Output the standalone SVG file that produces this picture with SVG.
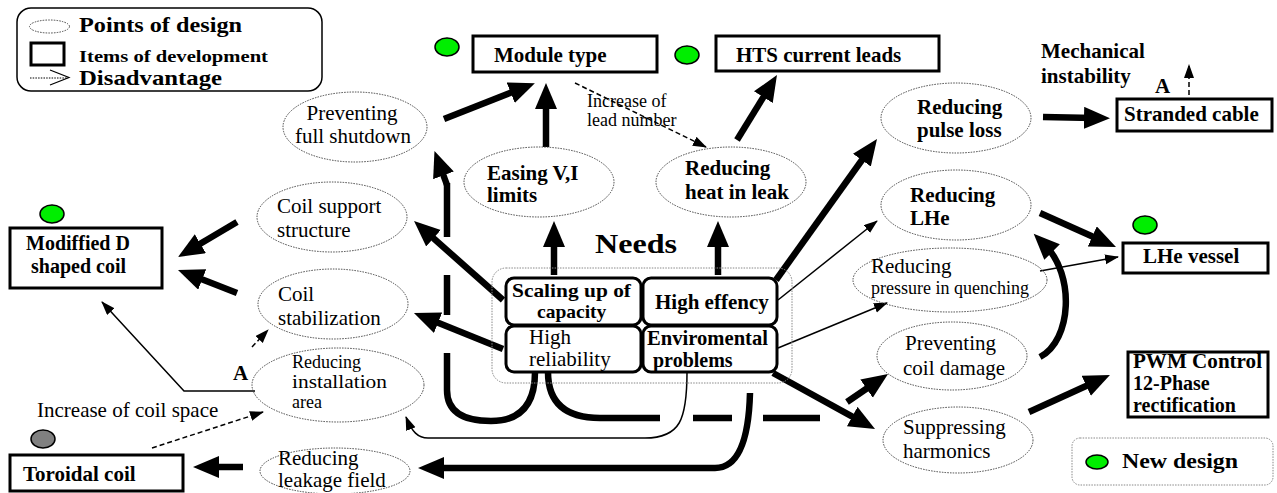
<svg xmlns="http://www.w3.org/2000/svg" width="1277" height="493" viewBox="0 0 1277 493">
<style>
text{font-family:"Liberation Serif","Times New Roman",serif;fill:#000}
.n{font-size:21px}
.b{font-size:21px;font-weight:bold}
.s{font-size:18px}
.ell{fill:none;stroke:#444;stroke-width:1;stroke-dasharray:1.5 1.2}
.box{fill:#fff;stroke:#000;stroke-width:3}
.rbox{fill:#fff;stroke:#000;stroke-width:3}
.dot{fill:#00ee00;stroke:#000;stroke-width:1.5}
.thk{fill:none;stroke:#000;stroke-width:6.5}
.thn{fill:none;stroke:#000;stroke-width:1.5}
.dsh{fill:none;stroke:#000;stroke-width:1.5;stroke-dasharray:5 3}
</style>
<defs>
<marker id="ah" markerUnits="userSpaceOnUse" markerWidth="28" markerHeight="24" refX="10" refY="11" orient="auto"><path d="M0,0 L26,11 L0,22 z" fill="#000"/></marker>
<marker id="as" markerUnits="userSpaceOnUse" markerWidth="16" markerHeight="12" refX="13" refY="5" orient="auto"><path d="M0,0 L14,5 L0,10 z" fill="#000"/></marker>
</defs>

<g id="legend">
<rect x="17" y="8" width="305" height="83" rx="14" fill="#fff" stroke="#000" stroke-width="1.5"/>
<ellipse cx="49.5" cy="26.5" rx="20" ry="6.5" class="ell"/>
<text x="79" y="32" style="font-size:22px;font-weight:bold" textLength="163" lengthAdjust="spacingAndGlyphs">Points of design</text>
<rect x="31" y="43" width="33" height="22" fill="none" stroke="#000" stroke-width="3"/>
<text x="79" y="62" style="font-size:17px;font-weight:bold" textLength="189" lengthAdjust="spacingAndGlyphs">Items of development</text>
<line x1="30" y1="78" x2="68" y2="78" stroke="#000" stroke-width="1" stroke-dasharray="1.5 1.2"/>
<path d="M50,70 L69,77.5 L50,85" fill="none" stroke="#000" stroke-width="1.2"/>
<text x="79" y="85" style="font-size:22px;font-weight:bold" textLength="143" lengthAdjust="spacingAndGlyphs">Disadvantage</text>
</g>

<g id="connectors">
<line x1="444" y1="119" x2="520" y2="89" class="thk" marker-end="url(#ah)"/>
<line x1="546" y1="147" x2="546" y2="99" class="thk" marker-end="url(#ah)"/>
<line x1="554" y1="275" x2="554" y2="237" class="thk" marker-end="url(#ah)"/>
<line x1="718" y1="275" x2="718" y2="237" class="thk" marker-end="url(#ah)"/>
<line x1="737" y1="140" x2="768.6" y2="88.6" class="thk" marker-end="url(#ah)"/>
<line x1="776" y1="280" x2="867.7" y2="152" class="thk" marker-end="url(#ah)"/>
<line x1="1043" y1="117" x2="1094" y2="118" class="thk" marker-end="url(#ah)"/>
<line x1="1040" y1="213" x2="1101.4" y2="240.5" class="thk" marker-end="url(#ah)"/>
<line x1="773" y1="373" x2="861" y2="421.3" class="thk" marker-end="url(#ah)"/>
<line x1="847" y1="402" x2="874.8" y2="383" class="thk" marker-end="url(#ah)"/>
<line x1="1029" y1="412" x2="1095.4" y2="381.7" class="thk" marker-end="url(#ah)"/>
<line x1="503" y1="300" x2="426" y2="231.6" class="thk" marker-end="url(#ah)"/>
<line x1="503" y1="349" x2="428.8" y2="319" class="thk" marker-end="url(#ah)"/>
<line x1="237" y1="222" x2="191.8" y2="248.8" class="thk" marker-end="url(#ah)"/>
<line x1="237" y1="293" x2="192.9" y2="275.8" class="thk" marker-end="url(#ah)"/>
<line x1="243" y1="467" x2="209" y2="467" class="thk" marker-end="url(#ah)"/>
<path d="M750,393 Q748,468 715,468 L434,468" class="thk" marker-end="url(#ah)"/>
<path d="M1040,357 C1072,340 1075,275 1045,245" class="thk" marker-end="url(#ah)"/>
<path d="M535,372 Q535,421 491,421 Q447,421 447,390 L447,353" class="thk"/>
<path d="M447,315 L447,275" class="thk"/>
<path d="M447,237 L447,183" class="thk"/>
<path d="M447,185 L440,166" class="thk" marker-end="url(#ah)"/>
<path d="M548,372 Q548,418 600,418 L660,418" class="thk"/>
<path d="M693,418 L732,418 M763,418 L820,418" class="thk"/>
<line x1="778" y1="300" x2="877" y2="221" class="thn" marker-end="url(#as)"/>
<line x1="778" y1="348" x2="887" y2="303" class="thn" marker-end="url(#as)"/>
<line x1="1040" y1="271" x2="1118" y2="257" class="thn" marker-end="url(#as)"/>
<path d="M687,372 C687,420 680,438 645,438 L428,438 C418,438 412,432 406,417" class="thn" marker-end="url(#as)"/>
<path d="M255,391 L184,391 L102,302" class="thn" marker-end="url(#as)"/>
<line x1="575" y1="83" x2="706" y2="147" class="dsh" marker-end="url(#as)"/>
<line x1="152" y1="448" x2="263" y2="412" class="dsh" marker-end="url(#as)"/>
<line x1="252" y1="347" x2="268" y2="330" class="dsh" marker-end="url(#as)"/>
<line x1="1189" y1="95" x2="1189" y2="65" class="dsh" marker-end="url(#as)"/>
</g>

<g id="lbl-lead">
<text x="587" y="107" class="s">Increase of</text>
<text x="587" y="126" class="s">lead number</text>
</g>
<g id="lbl-mech">
<text x="1041" y="58" class="b">Mechanical</text>
<text x="1041" y="83" class="b">instability</text>
<text x="1155" y="93" class="b">A</text>
</g>
<g id="lbl-coilspace">
<text x="37" y="417" class="n">Increase of coil space</text>
<text x="233" y="380" class="b">A</text>
</g>

<g id="module-type">
<ellipse cx="447" cy="47" rx="12" ry="9" class="dot"/>
<rect x="473" y="36" width="184" height="36" class="box"/>
<text x="494" y="62" class="b">Module type</text>
</g>
<g id="hts-leads">
<ellipse cx="687" cy="55" rx="12" ry="9" class="dot"/>
<rect x="716" y="36" width="223" height="35" class="box"/>
<text x="736" y="62" class="b">HTS current leads</text>
</g>
<g id="stranded-cable">
<rect x="1117" y="99" width="155" height="32" class="box"/>
<text x="1124" y="121" class="b">Stranded cable</text>
</g>
<g id="lhe-vessel">
<ellipse cx="1145" cy="225" rx="12" ry="9" class="dot"/>
<rect x="1123" y="243" width="145" height="30" class="box"/>
<text x="1143" y="263" class="b">LHe vessel</text>
</g>
<g id="pwm">
<rect x="1128" y="352" width="140" height="65" class="box"/>
<text x="1133" y="368" style="font-size:20px;font-weight:bold" textLength="129" lengthAdjust="spacingAndGlyphs">PWM Control</text>
<text x="1133" y="390" style="font-size:20px;font-weight:bold">12-Phase</text>
<text x="1133" y="412" style="font-size:20px;font-weight:bold">rectification</text>
</g>
<g id="new-design">
<rect x="1072" y="438" width="201" height="47" rx="8" fill="#fff" stroke="#888" stroke-width="1" stroke-dasharray="1.5 1.2"/>
<ellipse cx="1097" cy="462" rx="11" ry="7" class="dot"/>
<text x="1122" y="468" style="font-size:22px;font-weight:bold" textLength="116" lengthAdjust="spacingAndGlyphs">New design</text>
</g>
<g id="modified-d">
<ellipse cx="52" cy="214" rx="12" ry="9" class="dot"/>
<rect x="10" y="228" width="152" height="60" class="box"/>
<text x="26" y="250" style="font-size:20px;font-weight:bold">Modiffied D</text>
<text x="31" y="273" style="font-size:20px;font-weight:bold">shaped coil</text>
</g>
<g id="toroidal">
<ellipse cx="43" cy="439" rx="12" ry="9" fill="#808080" stroke="#000" stroke-width="1.5"/>
<rect x="10" y="455" width="173" height="36" class="box"/>
<text x="23" y="481" class="b">Toroidal coil</text>
</g>

<g id="p-shutdown">
<ellipse cx="355" cy="127" rx="72" ry="35" class="ell"/>
<text x="352" y="120" class="n" text-anchor="middle">Preventing</text>
<text x="353" y="143" class="n" text-anchor="middle">full shutdown</text>
</g>
<g id="p-easing">
<ellipse cx="539" cy="182" rx="75" ry="35" class="ell"/>
<text x="487" y="180" class="b">Easing V,I</text>
<text x="487" y="202" class="b">limits</text>
</g>
<g id="p-heat">
<ellipse cx="731" cy="182" rx="75" ry="35" class="ell"/>
<text x="685" y="175" class="b">Reducing</text>
<text x="685" y="199" class="b">heat in leak</text>
</g>
<g id="p-pulse">
<ellipse cx="956" cy="118" rx="75" ry="35" class="ell"/>
<text x="917" y="114" class="b">Reducing</text>
<text x="917" y="137" class="b">pulse loss</text>
</g>
<g id="p-lhe">
<ellipse cx="956" cy="205" rx="75" ry="35" class="ell"/>
<text x="910" y="202" class="b">Reducing</text>
<text x="910" y="225" class="b">LHe</text>
</g>
<g id="p-pressure">
<ellipse cx="950" cy="280" rx="97" ry="32" class="ell"/>
<text x="871" y="273" class="n">Reducing</text>
<text x="871" y="294" class="s">pressure in quenching</text>
</g>
<g id="p-damage">
<ellipse cx="952" cy="356" rx="75" ry="34" class="ell"/>
<text x="905" y="350" class="n">Preventing</text>
<text x="903" y="375" class="n">coil damage</text>
</g>
<g id="p-harmonics">
<ellipse cx="958" cy="440" rx="75" ry="33" class="ell"/>
<text x="903" y="434" class="n">Suppressing</text>
<text x="903" y="458" class="n">harmonics</text>
</g>
<g id="p-support">
<ellipse cx="332" cy="217" rx="75" ry="35" class="ell"/>
<text x="277" y="213" class="n">Coil support</text>
<text x="277" y="237" class="n">structure</text>
</g>
<g id="p-stab">
<ellipse cx="333" cy="304" rx="75" ry="35" class="ell"/>
<text x="278" y="301" class="n">Coil</text>
<text x="278" y="325" class="n">stabilization</text>
</g>
<g id="p-install">
<ellipse cx="338" cy="385" rx="86" ry="37" class="ell"/>
<text x="292" y="368" style="font-size:18px">Reducing</text>
<text x="292" y="388" style="font-size:18px" textLength="95" lengthAdjust="spacingAndGlyphs">installation</text>
<text x="292" y="408" style="font-size:18px">area</text>
</g>
<g id="p-leakage">
<ellipse cx="335" cy="471" rx="75" ry="23" class="ell"/>
<text x="278" y="465" class="n">Reducing</text>
<text x="278" y="487" class="n">leakage field</text>
</g>

<g id="needs">
<rect x="492" y="268" width="300" height="115" rx="14" fill="none" stroke="#888" stroke-width="1" stroke-dasharray="1.5 1.2"/>
<text x="636" y="253" style="font-size:28px;font-weight:bold" text-anchor="middle" textLength="82" lengthAdjust="spacingAndGlyphs">Needs</text>
</g>
<g id="n-scaling">
<rect x="506" y="278" width="135" height="47" rx="8" class="rbox"/>
<text x="512" y="297" style="font-size:19.5px;font-weight:bold" textLength="119" lengthAdjust="spacingAndGlyphs">Scaling up of</text>
<text x="537" y="318" style="font-size:19.5px;font-weight:bold">capacity</text>
</g>
<g id="n-effency">
<rect x="643" y="278" width="134" height="47" rx="8" class="rbox"/>
<text x="655" y="309" class="b">High effency</text>
</g>
<g id="n-reliability">
<rect x="506" y="326" width="135" height="46" rx="8" class="rbox"/>
<text x="529" y="344" class="n">High</text>
<text x="529" y="366" class="n">reliability</text>
</g>
<g id="n-env">
<rect x="643" y="326" width="134" height="46" rx="8" class="rbox"/>
<text x="647" y="345" style="font-size:20px;font-weight:bold" textLength="121" lengthAdjust="spacingAndGlyphs">Enviromental</text>
<text x="653" y="367" style="font-size:20px;font-weight:bold">problems</text>
</g>
</svg>
